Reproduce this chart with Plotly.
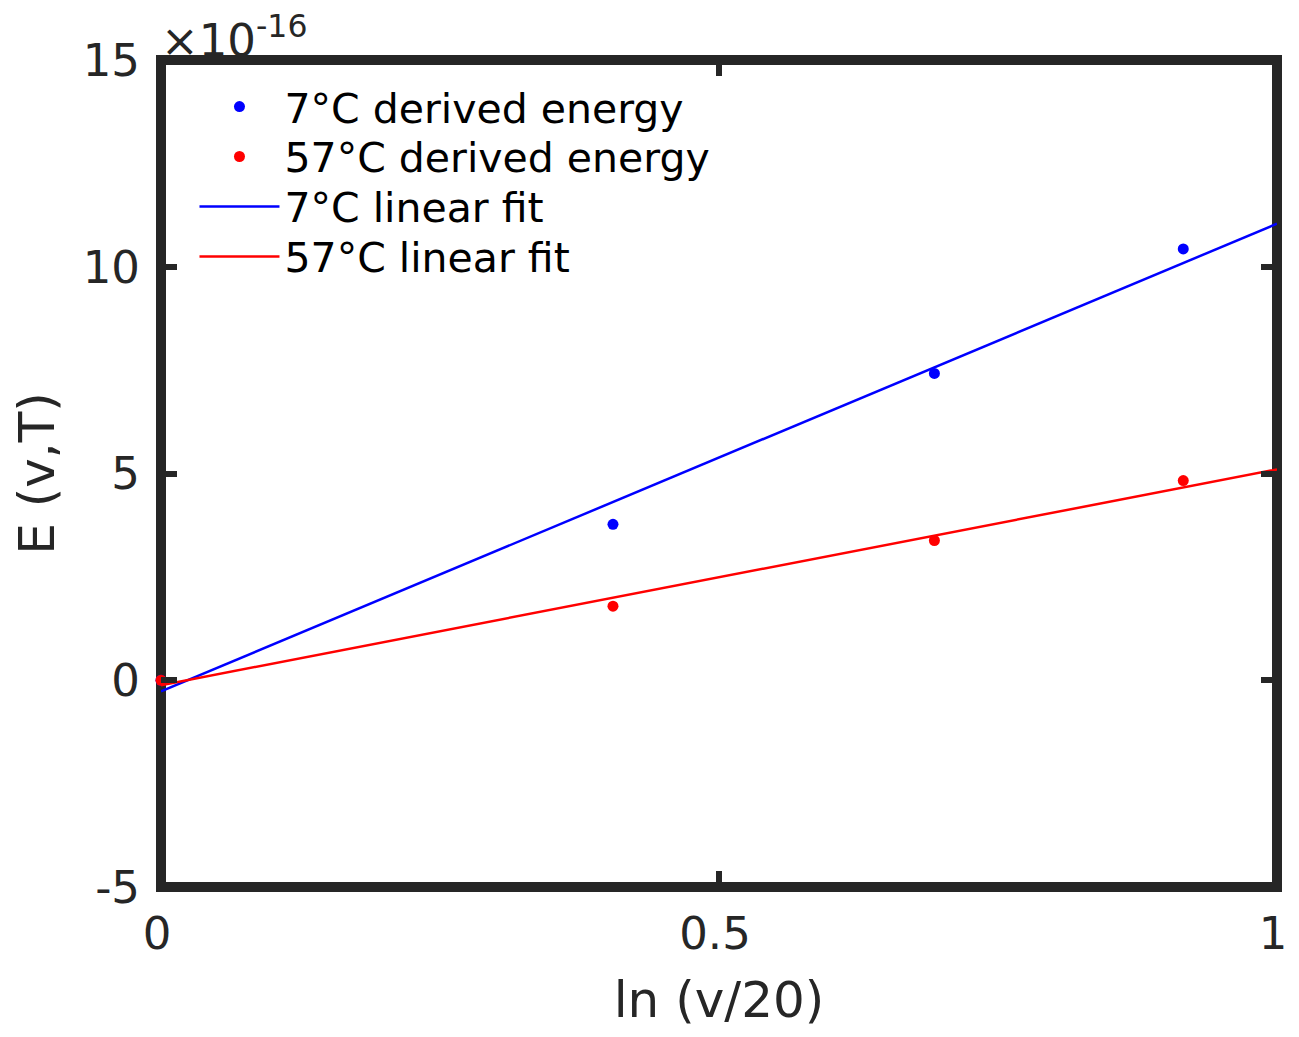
import plotly.graph_objects as go

# ---- data (energies in units of 1e-16) ----
x_ln = [0.0, 0.405, 0.693, 0.916]            # ln(v/20)
e_7c = [0.0, 3.77, 7.42, 10.43]              # 7°C derived energy
e_57c = [0.0, 1.79, 3.38, 4.83]              # 57°C derived energy
fit_x = [0.0, 1.0]
fit_7c = [-0.27, 11.04]                       # 7°C linear fit
fit_57c = [-0.12, 5.10]                       # 57°C linear fit
x_ticks = [0, 0.5, 1]
x_ticktext = ["0", "0.5", "1"]
y_ticks = [-5, 0, 5, 10, 15]
y_ticktext = ["-5", "0", "5", "10", "15"]

FONT = "DejaVu Sans"
INK = "#262626"

fig = go.Figure()
fig.add_trace(go.Scatter(x=x_ln, y=e_7c, mode="markers", name="7°C derived energy",
                         marker=dict(color="#0000ff", size=11, symbol="circle"),
                         cliponaxis=False, legend="legend"))
fig.add_trace(go.Scatter(x=x_ln, y=e_57c, mode="markers", name="57°C derived energy",
                         marker=dict(color="#ff0000", size=11, symbol="circle"),
                         cliponaxis=False, legend="legend2"))
fig.add_trace(go.Scatter(x=fit_x, y=fit_7c, mode="lines", name="7°C linear fit",
                         line=dict(color="#0000ff", width=2.5), cliponaxis=False,
                         legend="legend3"))
fig.add_trace(go.Scatter(x=fit_x, y=fit_57c, mode="lines", name="57°C linear fit",
                         line=dict(color="#ff0000", width=2.5), cliponaxis=False,
                         legend="legend4"))

axis_common = dict(showgrid=False, zeroline=False, showline=False, ticks="inside",
                   ticklen=16, tickwidth=6, tickcolor=INK, mirror="ticks",
                   ticklabeloverflow="allow",
                   tickfont=dict(family=FONT, size=45, color=INK))

fig.update_xaxes(range=[0, 1], tickvals=x_ticks, ticktext=x_ticktext,
                 ticklabelstandoff=16, ticklabelshift=-4,
                 title=dict(text="ln (v/20)", font=dict(family=FONT, size=50, color=INK), standoff=30),
                 **axis_common)
fig.update_yaxes(range=[-5, 15], tickvals=y_ticks, ticktext=y_ticktext,
                 ticklabelstandoff=20,
                 title=dict(text="E (v,T)", font=dict(family=FONT, size=50, color=INK), standoff=36),
                 **axis_common)

fig.add_shape(type="rect", xref="paper", yref="paper", x0=0, y0=0, x1=1, y1=1,
              line=dict(color=INK, width=10), layer="below")

fig.add_annotation(xref="paper", yref="paper", x=0, y=1, xanchor="left", yanchor="bottom",
                   text="×10<sup>-16</sup>", showarrow=False, xshift=-2, yshift=-9,
                   font=dict(family=FONT, size=45, color=INK))

leg_common = dict(x=0.03, xanchor="left", yanchor="middle", bgcolor="rgba(0,0,0,0)",
                  itemwidth=80, font=dict(family=FONT, size=41, color="black"))

fig.update_layout(
    width=1283, height=1021,
    margin=dict(l=152, r=4, t=52, b=141),
    paper_bgcolor="white", plot_bgcolor="white",
    showlegend=True,
    legend=dict(y=0.9432, **leg_common),
    legend2=dict(y=0.8829, **leg_common),
    legend3=dict(y=0.8225, **leg_common),
    legend4=dict(y=0.7621, **leg_common),
)

fig.write_html("out.html", config={"displayModeBar": False})
